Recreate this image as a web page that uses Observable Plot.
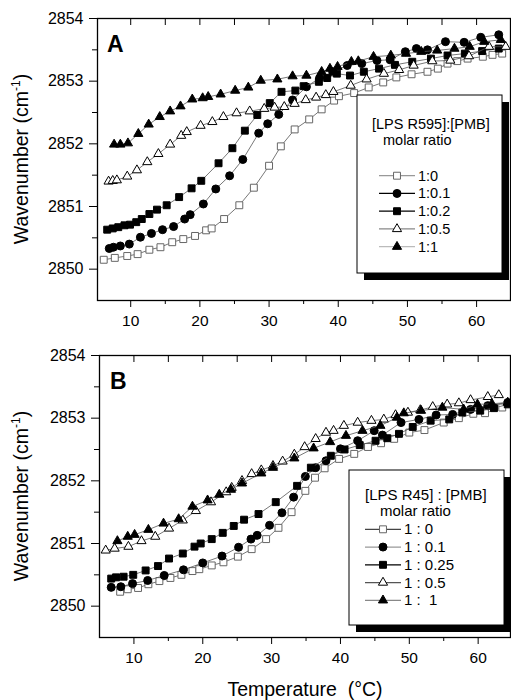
<!DOCTYPE html>
<html><head><meta charset="utf-8">
<script src="https://cdn.jsdelivr.net/npm/d3@7"></script>
<script src="https://cdn.jsdelivr.net/npm/@observablehq/plot@0.6"></script>
<style>
body{margin:0;background:#fff;}
#wrap{position:relative;width:511px;height:700px;font-family:"Liberation Sans",Arial,sans-serif;}
#wrap svg{position:absolute;left:0;overflow:visible;}
</style></head><body><div id="wrap"></div>
<script>
// ---------- Panel A: [LPS R595]:[PMB] ----------
const legendA = ["1:0", "1:0.1", "1:0.2", "1:0.5", "1:1"];
const A0_T = [6.1,7.7,9.5,11.0,12.7,14.3,16.0,17.6,19.3,20.9,21.7,23.5,25.7,27.8,30.0,31.7,33.7,35.8,37.6,39.4,40.1,42.3,44.4,46.5,48.4,50.6,52.9,54.4,55.8,57.2,58.7,60.9,62.3,63.7];
const A0_V = [2850.15,2850.18,2850.21,2850.24,2850.31,2850.35,2850.43,2850.48,2850.53,2850.62,2850.65,2850.80,2851.02,2851.30,2851.65,2851.96,2852.23,2852.39,2852.55,2852.69,2852.76,2852.81,2852.90,2852.98,2853.06,2853.11,2853.15,2853.20,2853.28,2853.32,2853.36,2853.39,2853.42,2853.44];
const A1_T = [6.9,7.5,8.5,9.8,11.4,13.0,14.6,16.2,17.8,18.6,20.5,22.3,24.3,26.2,28.5,29.8,31.4,33.4,35.4,37.3,39.2,41.3,43.4,45.6,47.5,49.7,51.3,52.9,55.5,58.2,60.6,63.2];
const A1_V = [2850.33,2850.35,2850.37,2850.40,2850.51,2850.57,2850.63,2850.68,2850.80,2850.87,2851.04,2851.28,2851.49,2851.75,2852.17,2852.32,2852.47,2852.70,2852.91,2853.05,2853.15,2853.25,2853.28,2853.33,2853.34,2853.47,2853.52,2853.50,2853.63,2853.62,2853.70,2853.74];
const A2_T = [6.6,7.4,8.2,9.1,9.9,10.8,11.6,12.7,13.8,15.2,17.0,18.8,20.2,22.7,24.7,26.5,28.3,30.1,31.8,33.8,35.0,37.2,38.4,39.8,41.7,43.7,45.9,48.2,50.7,53.4,55.8,58.3,60.8,63.2];
const A2_V = [2850.63,2850.65,2850.67,2850.70,2850.71,2850.75,2850.80,2850.88,2850.95,2851.02,2851.15,2851.29,2851.41,2851.69,2851.93,2852.21,2852.46,2852.65,2852.83,2852.85,2852.92,2852.99,2853.05,2853.12,2853.09,2853.15,2853.20,2853.26,2853.31,2853.36,2853.41,2853.44,2853.48,2853.52];
const A3_T = [6.8,7.4,8.0,9.5,10.9,12.4,14.0,15.7,17.3,18.1,20.1,21.8,23.4,25.3,27.2,29.3,30.8,32.2,33.7,35.3,36.8,38.2,39.3,41.8,44.1,46.6,48.8,50.9,53.6,56.2,58.9,61.8,64.2];
const A3_V = [2851.40,2851.41,2851.42,2851.48,2851.58,2851.71,2851.84,2851.99,2852.13,2852.19,2852.29,2852.35,2852.43,2852.49,2852.52,2852.56,2852.58,2852.59,2852.64,2852.70,2852.74,2852.78,2852.83,2852.93,2853.03,2853.12,2853.18,2853.25,2853.32,2853.33,2853.40,2853.55,2853.55];
const A4_T = [7.6,8.5,9.6,11.1,12.6,14.2,15.7,17.2,18.9,20.4,21.2,23.0,25.1,27.0,28.8,31.2,33.4,35.4,37.6,38.8,39.9,41.9,42.9,45.1,47.6,49.8,52.0,54.3,56.8,59.0,61.1,63.5];
const A4_V = [2851.99,2851.99,2852.01,2852.16,2852.31,2852.43,2852.52,2852.60,2852.71,2852.73,2852.75,2852.79,2852.85,2852.90,2853.01,2853.03,2853.08,2853.09,2853.15,2853.20,2853.23,2853.31,2853.32,2853.39,2853.41,2853.44,2853.47,2853.49,2853.52,2853.55,2853.63,2853.66];

// ---------- Panel B: [LPS R45] : [PMB] ----------
const legendB = ["1 : 0", "1 : 0.1", "1 : 0.25", "1 : 0.5", "1 :  1"];
const B0_T = [8.0,9.1,10.6,12.1,13.7,15.3,16.9,18.5,19.5,21.3,23.0,25.1,27.1,29.2,31.0,32.9,34.9,36.3,37.7,39.8,42.0,44.0,45.9,47.8,50.0,52.2,55.0,57.2,59.3,61.0,63.5];
const B0_V = [2850.23,2850.27,2850.29,2850.35,2850.40,2850.45,2850.50,2850.56,2850.59,2850.65,2850.70,2850.79,2850.91,2851.07,2851.25,2851.50,2851.84,2852.05,2852.20,2852.35,2852.43,2852.54,2852.60,2852.67,2852.77,2852.81,2852.93,2853.00,2853.07,2853.08,2853.17];
const B1_T = [6.7,8.1,9.8,12.0,14.4,17.2,20.0,22.8,25.2,27.0,27.9,29.7,31.5,33.2,34.9,36.4,37.9,40.0,42.5,44.9,46.1,48.8,51.4,53.9,56.3,58.9,61.4,64.3];
const B1_V = [2850.30,2850.31,2850.36,2850.41,2850.49,2850.58,2850.69,2850.80,2850.94,2851.07,2851.13,2851.29,2851.49,2851.74,2852.07,2852.21,2852.32,2852.51,2852.64,2852.80,2852.73,2852.93,2852.98,2853.05,2853.06,2853.14,2853.20,2853.25];
const B2_T = [6.7,7.4,8.5,9.9,11.7,13.5,15.1,17.1,18.8,19.7,21.3,22.9,24.5,26.0,28.1,30.6,33.7,35.7,38.6,40.6,42.8,45.1,46.8,48.5,50.5,53.1,55.8,57.7,60.3,62.3,64.3];
const B2_V = [2850.44,2850.46,2850.47,2850.50,2850.57,2850.64,2850.76,2850.84,2850.95,2851.00,2851.07,2851.17,2851.28,2851.38,2851.47,2851.66,2851.92,2852.21,2852.40,2852.50,2852.57,2852.64,2852.68,2852.75,2852.86,2852.96,2852.98,2853.09,2853.12,2853.16,2853.22];
const B3_T = [5.9,7.2,9.2,11.1,13.1,15.1,17.1,19.0,21.2,23.4,24.2,25.7,27.1,28.5,30.2,31.6,33.3,34.8,36.4,37.9,39.0,40.5,42.5,44.5,46.3,48.0,49.8,51.6,53.4,55.5,57.2,58.9,61.4,63.0];
const B3_V = [2850.89,2850.92,2850.95,2851.04,2851.11,2851.24,2851.37,2851.52,2851.66,2851.82,2851.89,2852.00,2852.11,2852.17,2852.24,2852.31,2852.42,2852.54,2852.67,2852.77,2852.80,2852.88,2852.93,2852.96,2852.98,2853.05,2853.09,2853.13,2853.18,2853.22,2853.24,2853.29,2853.34,2853.37];
const B4_T = [7.6,9.1,10.1,12.1,14.3,16.5,18.5,20.7,22.4,24.1,25.7,28.5,30.2,33.3,36.1,38.5,40.8,43.2,45.8,48.2,49.2,51.7,54.8,57.9,59.9,62.0,64.3];
const B4_V = [2851.04,2851.11,2851.14,2851.22,2851.32,2851.39,2851.59,2851.69,2851.78,2851.86,2851.96,2852.12,2852.21,2852.36,2852.52,2852.62,2852.72,2852.80,2852.88,2853.01,2853.08,2853.12,2853.17,2853.14,2853.22,2853.23,2853.25];

// axis tick values
const xMajor = [10,20,30,40,50,60];
const xMinor = [15,25,35,45,55];
const xTop = [10,15,20,25,30,35,40,45,50,55,60];
const yMajor = [2850,2851,2852,2853,2854];
const yMinor = [2850.5,2851.5,2852.5,2853.5];

// marker styles (shared by both panels)
const styles = [
  {symbol:"square",   r:3.9, fill:"#fff", stroke:"#666"},
  {symbol:"circle",   r:4.0, fill:"#000", stroke:"#000"},
  {symbol:"square",   r:3.9, fill:"#000", stroke:"#000"},
  {symbol:"triangle", r:3.4, fill:"#fff", stroke:"#000"},
  {symbol:"triangle", r:3.4, fill:"#000", stroke:"#000"}
];

function rows(T, V) { return T.map((t, i) => ({t, v: V[i]})); }

function panel(cfg) {
  const marks = [];
  cfg.series.forEach((s, i) => {
    const st = styles[i];
    const data = rows(s[0], s[1]);
    marks.push(Plot.line(data, {x:"t", y:"v", stroke:"#555", strokeWidth:0.8}));
    marks.push(Plot.dot(data, {x:"t", y:"v", symbol: st.symbol, r: st.r, fill: st.fill, stroke: st.stroke, strokeWidth: 1}));
  });
  marks.push(
    Plot.frame({stroke:"#000", strokeWidth:1.3}),
    Plot.axisX({anchor:"bottom", ticks:xMajor, tickSize:7, tickPadding:7, tickFormat:d3.format("d"), fontSize:15.5, label:null}),
    Plot.axisX({anchor:"bottom", ticks:xMinor, tickSize:4, tickFormat:() => "", label:null}),
    Plot.axisX({anchor:"top", ticks:xTop, tickSize:6, dy:6, tickFormat:() => "", label:null}),
    Plot.axisY({anchor:"left", ticks:yMajor, tickSize:8, tickPadding:6, tickFormat:d3.format("d"), fontSize:16, label:null}),
    Plot.axisY({anchor:"left", ticks:yMinor, tickSize:5, tickFormat:() => "", label:null})
  );
  return Plot.plot({
    width: 511, height: cfg.height,
    marginLeft: cfg.marginLeft, marginRight: 1, marginTop: 18, marginBottom: cfg.marginBottom,
    x: {domain: cfg.xDomain},
    y: {domain: [2849.5, 2854]},
    style: {fontFamily:"'Liberation Sans', Arial, sans-serif", color:"#000", background:"transparent", overflow:"visible"},
    marks
  });
}

function decorate(svg, cfg) {
  const g = d3.select(svg).append("g")
    .attr("font-family", "'Liberation Sans', Arial, sans-serif")
    .attr("fill", "#000").attr("text-anchor", "start");
  // panel letter
  g.append("text").attr("x", cfg.letterX).attr("y", 52).attr("font-size", 23).attr("font-weight", "bold").text(cfg.letter);
  // y label
  const yl = g.append("text").attr("transform", "translate(28,159) rotate(-90)").attr("text-anchor", "middle").attr("font-size", 19.5);
  yl.append("tspan").text("Wavenumber (cm");
  yl.append("tspan").attr("font-size", 12).attr("dy", -8).text("-1");
  yl.append("tspan").attr("dy", 8).text(")");
  // legend box + shadow
  const L = cfg.legend;
  g.append("rect").attr("x", L.x + 7).attr("y", L.y + 7).attr("width", L.w).attr("height", L.h).attr("fill", "#000");
  g.append("rect").attr("x", L.x).attr("y", L.y).attr("width", L.w).attr("height", L.h).attr("fill", "#fff").attr("stroke", "#000").attr("stroke-width", 1);
  g.append("text").attr("x", L.titleX).attr("y", L.titleY).attr("font-size", L.fs).text(L.title);
  g.append("text").attr("x", L.subX).attr("y", L.titleY + 16).attr("font-size", L.fs).text("molar ratio");
  L.labels.forEach((lab, i) => {
    const yb = L.itemY + i * 17.75;
    const cy = yb - 5;
    const st = styles[i];
    g.append("line").attr("x1", L.lineX).attr("x2", L.lineX + 36).attr("y1", cy).attr("y2", cy).attr("stroke", L.lineColors[i]).attr("stroke-width", 1.2);
    const sym = st.symbol === "circle" ? d3.symbolCircle : st.symbol === "square" ? d3.symbolSquare : d3.symbolTriangle;
    g.append("path").attr("d", d3.symbol(sym, Math.PI * st.r * st.r)()).attr("transform", `translate(${L.lineX + 18},${cy})`)
      .attr("fill", st.fill).attr("stroke", st.stroke).attr("stroke-width", 1);
    g.append("text").attr("x", L.lineX + 39).attr("y", yb).attr("font-size", L.fs).style("white-space", "pre").text(lab);
  });
  if (cfg.xLabel) {
    g.append("text").attr("x", 305).attr("y", 359).attr("text-anchor", "middle").attr("font-size", 19.5).style("white-space", "pre").text(cfg.xLabel);
  }
}

const wrap = document.getElementById("wrap");

const svgA = panel({height: 330, marginBottom: 30, marginLeft: 97, xDomain: [5.2, 64.9],
  series: [[A0_T,A0_V],[A1_T,A1_V],[A2_T,A2_V],[A3_T,A3_V],[A4_T,A4_V]]});
svgA.style.top = "0px";
wrap.appendChild(svgA);
decorate(svgA, {letter: "A", letterX: 107,
  legend: {x: 357, y: 95, w: 145, h: 178, fs: 14.5, title: "[LPS R595]:[PMB]", titleX: 372, titleY: 129, subX: 383,
    itemY: 180.7, lineX: 379, labels: legendA, lineColors: ["#999", "#000", "#000", "#888", "#bbb"]}});

const svgB = panel({height: 363, marginBottom: 63, marginLeft: 99, xDomain: [5.0, 64.7],
  series: [[B0_T,B0_V],[B1_T,B1_V],[B2_T,B2_V],[B3_T,B3_V],[B4_T,B4_V]]});
svgB.style.top = "337px";
wrap.appendChild(svgB);
decorate(svgB, {letter: "B", letterX: 110, xLabel: "Temperature  (\u00B0C)",
  legend: {x: 349, y: 133, w: 155, h: 155, fs: 15, title: "[LPS R45] : [PMB]", titleX: 365, titleY: 162.5, subX: 380,
    itemY: 197.3, lineX: 365, labels: legendB, lineColors: ["#444", "#999", "#000", "#555", "#888"]}});
</script>
</body></html>
